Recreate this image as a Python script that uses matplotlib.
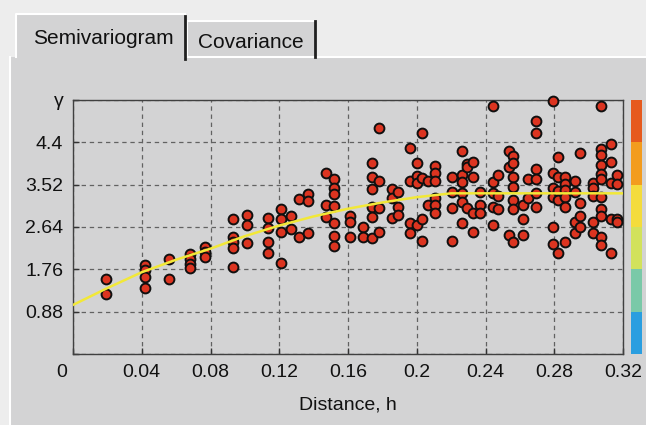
import numpy as np
import matplotlib.pyplot as plt
from matplotlib.patches import Rectangle
from matplotlib.transforms import ScaledTranslation

plt.rcParams['font.family'] = ['Liberation Sans', 'DejaVu Sans']

# empirical semivariogram cloud: lag distance and the gamma values found at it
lag_h = [0.019, 0.042, 0.056, 0.068, 0.077, 0.093, 0.101, 0.1135, 0.121, 0.127,
         0.1315, 0.137, 0.147, 0.152, 0.161, 0.169, 0.174, 0.178, 0.1856, 0.189,
         0.196, 0.200, 0.203, 0.2065, 0.2106, 0.2205, 0.2263, 0.229, 0.2327, 0.2368,
         0.2444, 0.2473, 0.2537, 0.256, 0.2618, 0.2647, 0.2694, 0.2793, 0.2822, 0.2863,
         0.2921, 0.295, 0.3025, 0.3072, 0.313, 0.3165]
lag_gamma = [
    [1.56, 1.25],
    [1.85, 1.75, 1.60, 1.37],
    [1.98, 1.56],
    [2.08, 1.98, 1.87, 1.79],
    [2.22, 2.12, 2.02],
    [2.81, 2.43, 2.33, 2.20, 1.81],
    [2.89, 2.68, 2.31],
    [2.83, 2.62, 2.33, 2.10],
    [3.01, 2.81, 2.54, 1.89],
    [2.87, 2.60],
    [3.22, 2.43],
    [3.33, 3.18, 2.52],
    [3.76, 3.10, 2.85],
    [3.64, 3.45, 3.33, 3.08, 2.72, 2.45, 2.25],
    [2.87, 2.74, 2.43],
    [2.64, 2.43],
    [3.97, 3.68, 3.43, 3.06, 2.85, 2.41],
    [4.70, 3.60, 3.04, 2.54],
    [3.43, 3.24, 2.83],
    [3.37, 3.06, 2.89],
    [4.28, 3.60, 2.72, 2.52],
    [3.97, 3.70, 3.56, 2.68],
    [4.59, 3.66, 2.81, 2.35],
    [3.60, 3.10],
    [3.91, 3.76, 3.60, 3.24, 3.10, 2.93],
    [3.68, 3.37, 3.04, 2.35],
    [4.22, 3.72, 3.58, 3.35, 3.16, 2.72],
    [3.95, 3.89, 3.04],
    [3.99, 3.68, 2.93, 2.54],
    [3.37, 3.10, 2.93],
    [5.16, 3.58, 3.35, 3.06, 2.68],
    [3.72, 3.28, 3.01],
    [4.22, 3.89, 2.47],
    [4.12, 3.97, 3.68, 3.47, 3.20, 3.01, 2.33],
    [3.10, 2.81, 2.47],
    [3.64, 3.24],
    [4.84, 4.59, 3.85, 3.64, 3.35, 3.06],
    [5.26, 3.76, 3.45, 3.26, 2.64, 2.29],
    [4.10, 3.68, 3.39, 3.20, 2.10],
    [3.68, 3.53, 3.41, 3.26, 3.06, 2.33],
    [3.60, 3.37, 2.74, 2.52],
    [4.18, 3.14, 2.87, 2.64],
    [3.56, 3.45, 3.28, 2.74, 2.52],
    [5.16, 4.26, 4.14, 3.93, 3.74, 3.64, 3.26, 3.01, 2.87, 2.43, 2.27],
    [4.37, 3.99, 3.56, 2.81, 2.10],
    [3.72, 3.53, 2.81, 2.74],
]

# fitted model curve
model_h = [0, 0.02, 0.04, 0.06, 0.08, 0.10, 0.12, 0.14, 0.16, 0.18, 0.20, 0.22, 0.32]
model_gamma = [1.02, 1.37, 1.70, 1.96, 2.19, 2.45, 2.67, 2.86, 3.02, 3.15, 3.26, 3.34, 3.34]

h_ticks = [0, 0.04, 0.08, 0.12, 0.16, 0.2, 0.24, 0.28, 0.32]
h_labels = ['0', '0.04', '0.08', '0.12', '0.16', '0.2', '0.24', '0.28', '0.32']
gamma_ticks = [0, 0.88, 1.76, 2.64, 3.52, 4.4, 5.28]
gamma_labels = ['', '0.88', '1.76', '2.64', '3.52', '4.4', 'γ']

# colour strip on the right, bottom to top
band_colors = ['#2a9ee0', '#7ac9a8', '#d2e25c', '#f4dc3c', '#f39c1e', '#e65a1e']

panel = '#d3d3d4'
W, H = 646, 425
fig = plt.figure(figsize=(W / 100, H / 100), dpi=100, facecolor='#ededed')

# window chrome: panel and the two tabs, in pixel units
bg = fig.add_axes([0, 0, 1, 1], zorder=-10)
bg.set_xlim(0, W)
bg.set_ylim(H, 0)
bg.axis('off')
bg.add_patch(Rectangle((10, 57), W - 10, H - 57, facecolor=panel, edgecolor='none'))
bg.plot([10, 10], [57, H], color='white', lw=1.5)
bg.plot([185, W], [57, 57], color='white', lw=1.5)
bg.add_patch(Rectangle((187, 21), 128, 36, facecolor=panel, edgecolor='none'))
bg.plot([187, 187, 315], [57, 21, 21], color='white', lw=1.5)
bg.plot([315, 315], [21, 57], color='#202020', lw=2)
bg.add_patch(Rectangle((16, 14), 169, 45, facecolor=panel, edgecolor='none'))
bg.plot([16, 16, 185], [57, 14, 14], color='white', lw=1.5)
bg.plot([185, 185], [16, 59], color='#202020', lw=2)
bg.text(103, 38, 'Semivariogram', fontsize=15, ha='center', va='center', color='#111111')
bg.text(251, 42, 'Covariance', fontsize=15, ha='center', va='center', color='#111111')

ax = fig.add_axes([73 / W, 1 - 354 / H, 550 / W, 254 / H])
ax.set_facecolor('none')

h = np.concatenate([[x] * len(g) for x, g in zip(lag_h, lag_gamma)])
g = np.concatenate(lag_gamma)
ax.scatter(h, g, s=50, facecolor='#dc3420', edgecolor='#101010', linewidth=1.4,
           zorder=3, clip_on=False)
ax.plot(model_h, model_gamma, color='#f2e838', lw=1.8, zorder=4)

ax.set_xlim(0, 0.32)
ax.set_ylim(0, 5.28)
ax.set_xticks(h_ticks)
ax.set_xticklabels(h_labels)
ax.set_yticks(gamma_ticks)
ax.set_yticklabels(gamma_labels)
ax.tick_params(direction='in', length=4, width=1, color='#333333',
               labelsize=14, labelcolor='#111111')
ax.tick_params(axis='x', pad=7)
ax.tick_params(axis='y', pad=7)
# the origin label sits left of the corner
lab0 = ax.get_xticklabels()[0]
lab0.set_transform(lab0.get_transform() + ScaledTranslation(-11 / 100, 0, fig.dpi_scale_trans))

ax.grid(True, color='#626262', linestyle=(0, (3.5, 3)), linewidth=0.9)
for s in ax.spines.values():
    s.set_color('#404040')
    s.set_linewidth(1)
ax.set_xlabel('Distance, h', fontsize=14, color='#111111', labelpad=11)

cax = fig.add_axes([631 / W, 1 - 354 / H, 11 / W, 254 / H])
for i, c in enumerate(band_colors):
    cax.bar(0, 0.88, bottom=i * 0.88, width=1, color=c, edgecolor='none')
cax.set_xlim(-0.5, 0.5)
cax.set_ylim(0, 5.28)
cax.axis('off')

fig.savefig('out.png', dpi=100, facecolor=fig.get_facecolor())
